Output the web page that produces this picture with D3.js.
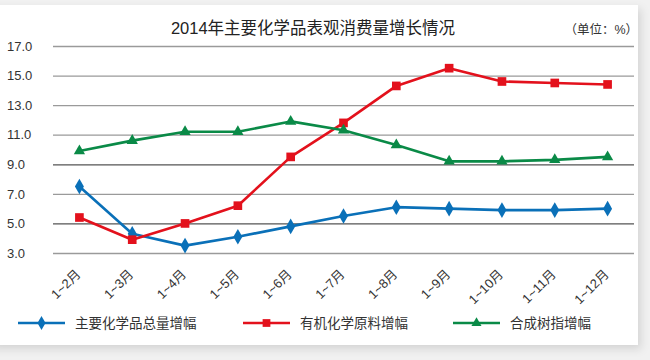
<!DOCTYPE html>
<html><head><meta charset="utf-8">
<script src="https://cdn.jsdelivr.net/npm/d3@7"></script>
<style>
html,body{margin:0;padding:0;background:#ececec;}
svg{display:block;}
</style></head>
<body>
<svg id="c" width="650" height="360"></svg>
<script>
const categories = ["1~2月","1~3月","1~4月","1~5月","1~6月","1~7月","1~8月","1~9月","1~10月","1~11月","1~12月"];
const totalGrowth = [7.5,4.3,3.5,4.1,4.8,5.5,6.1,6.0,5.9,5.9,6.0];
const organicGrowth = [5.4,3.9,5.0,6.2,9.5,11.8,14.3,15.5,14.6,14.5,14.4];
const resinGrowth = [9.9,10.6,11.2,11.2,11.9,11.3,10.3,9.2,9.2,9.3,9.5];
const yTicks = [3.0,5.0,7.0,9.0,11.0,13.0,15.0,17.0];
const seriesNames = ["主要化学品总量增幅","有机化学原料增幅","合成树指增幅"];
const title = "2014年主要化学品表观消费量增长情况";
const unitLabel = "（单位：%）";

const colors = ["#0a70b8","#e3111c","#0a8a47"];
const font = "'Liberation Sans','Noto Sans CJK SC',Arial,sans-serif";
const svg = d3.select("#c");

// card + shadow
const defs = svg.append("defs");
const f = defs.append("filter").attr("id","sh").attr("x","-5%").attr("y","-5%").attr("width","115%").attr("height","120%");
f.append("feDropShadow").attr("dx",3).attr("dy",4).attr("stdDeviation",4).attr("flood-color","#000").attr("flood-opacity",0.12);
svg.append("rect").attr("x",0).attr("y",0).attr("width",650).attr("height",360).attr("fill","#f1f1f1");
svg.append("rect").attr("x",-10).attr("y",5).attr("width",648).attr("height",340).attr("fill","#fff").attr("filter","url(#sh)");

const x = d3.scaleBand().domain(categories).range([53,634]);
const cx = d => x(d) + x.bandwidth()/2;
const y = d3.scaleLinear().domain([3,17]).range([253,46]);

// title
svg.append("text").attr("x",313).attr("y",34).attr("text-anchor","middle")
  .attr("font-family",font).attr("font-size",16.5).attr("fill","#222").text(title);
svg.append("text").attr("x",638).attr("y",34).attr("text-anchor","end")
  .attr("font-family",font).attr("font-size",12.5).attr("fill","#333").text(unitLabel);

// grid
const yAxis = d3.axisLeft(y).tickValues(yTicks).tickFormat(d3.format(".1f")).tickSize(-(634-53)).tickPadding(18);
const ga = svg.append("g").attr("transform","translate(53,0)").call(yAxis);
ga.select(".domain").remove();
ga.selectAll(".tick line").attr("stroke", d => (d===9||d===5)?"#555":"#9a9a9a").attr("stroke-width",1.3);
ga.selectAll(".tick text").attr("font-family",font).attr("font-size",13).attr("fill","#333").attr("text-anchor","start").attr("x",-46);

// x labels
const xAxis = d3.axisBottom(x).tickSize(0).tickPadding(0);
const gx = svg.append("g").attr("transform","translate(0,262)").call(xAxis);
gx.select(".domain").remove();
gx.selectAll(".tick text").attr("font-family",font).attr("font-size",13).attr("fill","#333")
  .attr("text-anchor","end").attr("dy",0).attr("transform","translate(2,13) rotate(-45)");

const data = [totalGrowth, organicGrowth, resinGrowth];
const line = d3.line().x((d,i)=>cx(categories[i])).y(d=>y(d));
const symbols = [d3.symbolDiamond, d3.symbolSquare, d3.symbolTriangle];
const sizes = [70, 75, 55];

data.forEach((vals,k)=>{
  svg.append("path").datum(vals).attr("d",line).attr("fill","none")
    .attr("stroke",colors[k]).attr("stroke-width",2.6).attr("stroke-linejoin","round");
  svg.append("g").selectAll("path").data(vals).join("path")
    .attr("transform",(d,i)=>`translate(${cx(categories[i])},${y(d)})`)
    .attr("d",d3.symbol().type(symbols[k]).size(sizes[k])).attr("fill",colors[k]);
});

// legend
const legX = [18, 243, 453];
seriesNames.forEach((n,k)=>{
  const g = svg.append("g").attr("transform",`translate(${legX[k]},323)`);
  g.append("line").attr("x1",0).attr("x2",47).attr("y1",0).attr("y2",0).attr("stroke",colors[k]).attr("stroke-width",2.6);
  g.append("path").attr("transform","translate(23.5,0)").attr("d",d3.symbol().type(symbols[k]).size(sizes[k]*0.8)).attr("fill",colors[k]);
  g.append("text").attr("x",57).attr("y",5).attr("font-family",font).attr("font-size",13.5).attr("fill","#333").text(n);
});
</script>
</body></html>
